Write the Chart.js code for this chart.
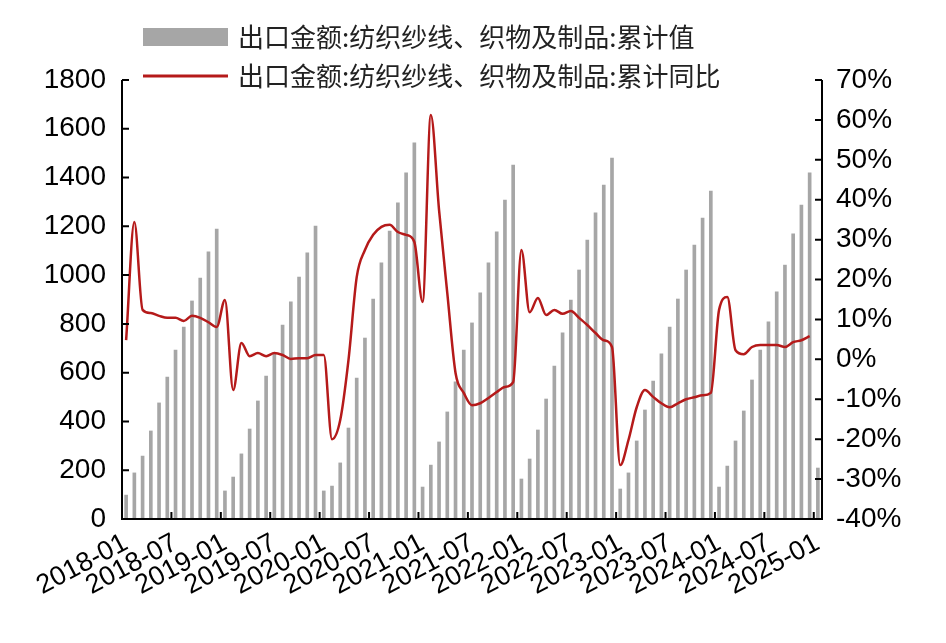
<!DOCTYPE html>
<html><head><meta charset="utf-8">
<script src="https://cdn.jsdelivr.net/npm/chart.js@4"></script>
<style>html,body{margin:0;padding:0;background:#fff}#w{width:946px;height:643px}</style>
</head><body><div id="w"><canvas id="c"></canvas></div>
<script>
const categories = [];
for (let y = 2018; y <= 2025; y++) for (let m = 1; m <= 12; m++) { if (y === 2025 && m > 1) break; categories.push(y + '-' + String(m).padStart(2, '0')); }
const cumValue = [
98,189,258,361,476,582,693,787,894,988,1095,1189,
115,172,267,369,484,586,681,795,890,992,1091,1201,
115,135,230,373,578,742,902,1050,1181,1296,1419,1542,
131,221,316,439,562,693,804,927,1050,1177,1308,1451,
164,246,365,492,627,763,898,1021,1144,1255,1369,1480,
123,189,320,447,566,677,787,902,1021,1123,1234,1345,
131,217,320,443,570,693,808,931,1041,1169,1287,1419,
209];
const cumYoY = [
4.8,34.4,12.4,11.6,10.9,10.4,10.4,9.6,10.9,10.4,9.3,8.1,
14.9,-7.7,4.1,0.8,1.6,0.8,1.6,1.1,0.1,0.3,0.3,1.1,
1.1,-20,-15.2,-0.2,20.6,27.4,31.2,33.2,33.7,31.9,31.2,29.4,
14.4,61.2,37.4,16.6,-3.4,-8.4,-11.5,-11,-9.7,-8.2,-6.9,-5.7,
27.4,11.8,15.4,11.1,12.4,11.4,12.1,10.4,8.6,6.6,4.8,3.1,
-26.5,-20.2,-12,-7.7,-9.4,-11,-12,-11,-10,-9.5,-9,-8.4,
12.4,15.6,2.3,1.3,3.1,3.6,3.6,3.6,3.1,4.3,4.8,5.8,
null];
const leftTicks = [0,200,400,600,800,1000,1200,1400,1600,1800];
const rightTicks = [-40,-30,-20,-10,0,10,20,30,40,50,60,70];
const seriesNames = ['出口金额:纺织纱线、织物及制品:累计值','出口金额:纺织纱线、织物及制品:累计同比'];
const FONT = '"Liberation Sans", Arial, sans-serif';
const RED = '#b51a1a', GRAY = '#a6a6a6';

const custom = {
  id: 'custom',
  afterDraw(chart) {
    const ctx = chart.ctx, a = chart.chartArea, x = chart.scales.x, yl = chart.scales.y, yr = chart.scales.y1;
    ctx.save();
    ctx.strokeStyle = '#000'; ctx.lineWidth = 2;
    ctx.beginPath();
    ctx.moveTo(a.left, a.top); ctx.lineTo(a.left, a.bottom); ctx.lineTo(a.right, a.bottom); ctx.lineTo(a.right, a.top);
    leftTicks.forEach(v => { const p = yl.getPixelForValue(v); ctx.moveTo(a.left, p); ctx.lineTo(a.left + 7, p); });
    rightTicks.forEach(v => { const p = yr.getPixelForValue(v); ctx.moveTo(a.right, p); ctx.lineTo(a.right - 7, p); });
    categories.forEach((c, i) => { if (i % 6 === 0 && i > 0) { const p = (x.getPixelForValue(i - 1) + x.getPixelForValue(i)) / 2; ctx.moveTo(p, a.bottom); ctx.lineTo(p, a.bottom - 7); } });
    ctx.stroke();
    ctx.font = '26px "Noto Sans CJK SC", sans-serif';
    ctx.textBaseline = 'middle';
    ctx.fillStyle = GRAY; ctx.fillRect(143, 28, 85, 18);
    ctx.fillStyle = '#222'; ctx.fillText(seriesNames[0], 238, 37);
    ctx.strokeStyle = RED; ctx.lineWidth = 3; ctx.beginPath(); ctx.moveTo(143, 76); ctx.lineTo(228, 76); ctx.stroke();
    ctx.fillText(seriesNames[1], 238, 76);
    ctx.restore();
  }
};

new Chart(document.getElementById('c'), {
  data: {
    labels: categories,
    datasets: [
      { type: 'line', label: seriesNames[1], data: cumYoY, yAxisID: 'y1', borderColor: RED, borderWidth: 2.5, pointRadius: 0, tension: 0.4, cubicInterpolationMode: 'monotone', order: 0 },
      { type: 'bar', label: seriesNames[0], data: cumValue, yAxisID: 'y', backgroundColor: GRAY, barThickness: 3, order: 1 }
    ]
  },
  options: {
    responsive: true, maintainAspectRatio: false, animation: false,
    layout: { padding: { top: 80, right: 0, bottom: 0, left: 0 } },
    plugins: { legend: { display: false }, tooltip: { enabled: false } },
    scales: {
      x: {
        offset: true,
        grid: { display: false }, border: { display: false },
        ticks: { autoSkip: false, maxRotation: 28, minRotation: 28, color: '#000', font: { family: FONT, size: 27 }, padding: 0,
          callback: (v, i) => i % 6 === 0 ? categories[i] : null },
        afterFit: s => { s.height = 124; }
      },
      y: {
        position: 'left', min: 0, max: 1800,
        grid: { display: false }, border: { display: false },
        afterBuildTicks: s => { s.ticks = leftTicks.map(v => ({ value: v })); },
        ticks: { color: '#000', font: { family: FONT, size: 28 }, padding: 8, callback: v => String(v) },
        afterFit: s => { s.width = 122; }
      },
      y1: {
        position: 'right', min: -40, max: 70,
        grid: { display: false }, border: { display: false },
        afterBuildTicks: s => { s.ticks = rightTicks.map(v => ({ value: v })); },
        ticks: { color: '#000', font: { family: FONT, size: 28 }, padding: 6, callback: v => v + '%' },
        afterFit: s => { s.width = 124; }
      }
    }
  },
  plugins: [custom]
});
</script></body></html>
